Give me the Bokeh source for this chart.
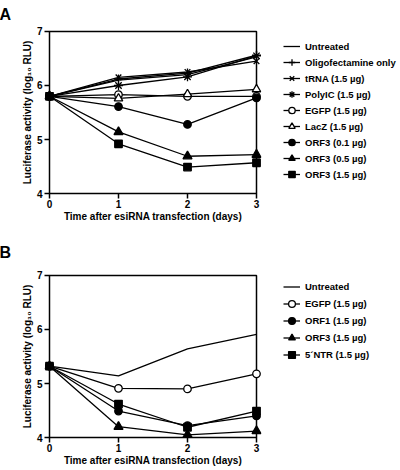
from bokeh.plotting import figure
from bokeh.layouts import column, row
from bokeh.models import Range1d, FixedTicker, Legend, LegendItem, BoxAnnotation
from bokeh.embed import file_html
from bokeh.resources import INLINE

days = [0, 1, 2, 3]
x_ticks = [0, 1, 2, 3]
y_ticks = [4, 5, 6, 7]

# Panel A values (log10 RLU)
a_untreated = [5.80, 6.10, 6.20, 6.53]
a_oligo = [5.80, 6.12, 6.23, 6.56]
a_trna = [5.80, 6.15, 6.25, 6.45]
a_polyic = [5.80, 6.00, 6.16, 6.55]
a_egfp = [5.80, 5.83, 5.80, 5.80]
a_lacz = [5.80, 5.76, 5.84, 5.93]
a_orf3_01 = [5.80, 5.61, 5.28, 5.77]
a_orf3_05 = [5.80, 5.14, 4.69, 4.72]
a_orf3_15 = [5.80, 4.92, 4.49, 4.57]

# Panel B values (log10 RLU)
b_untreated = [5.32, 5.14, 5.64, 5.91]
b_egfp = [5.32, 4.91, 4.90, 5.18]
b_orf1 = [5.32, 4.49, 4.22, 4.40]
b_orf3 = [5.32, 4.20, 4.05, 4.12]
b_5ntr = [5.32, 4.62, 4.19, 4.49]

FONT = "Liberation Sans"
PADX = 5 / 69.0
PADY = 5 / 54.2

series_a = [
    ("Untreated", a_untreated, None, None, 0),
    ("Oligofectamine only", a_oligo, "cross", "black", 9),
    ("tRNA (1.5 µg)", a_trna, "x", "black", 8),
    ("PolyIC (1.5 µg)", a_polyic, "asterisk", "black", 9),
    ("EGFP (1.5 µg)", a_egfp, "circle", "white", 7.5),
    ("LacZ (1.5 µg)", a_lacz, "triangle", "white", 8.5),
    ("ORF3 (0.1 µg)", a_orf3_01, "circle", "black", 7.5),
    ("ORF3 (0.5 µg)", a_orf3_05, "triangle", "black", 9),
    ("ORF3 (1.5 µg)", a_orf3_15, "square", "black", 7.5),
]

series_b = [
    ("Untreated", b_untreated, None, None, 0),
    ("EGFP (1.5 µg)", b_egfp, "circle", "white", 7.5),
    ("ORF1 (1.5 µg)", b_orf1, "circle", "black", 7.5),
    ("ORF3 (1.5 µg)", b_orf3, "triangle", "black", 9),
    ("5´NTR (1.5 µg)", b_5ntr, "square", "black", 7.5),
]


def draw_series(p, series):
    out = []
    for name, vals, marker, fill, size in series:
        rs = [p.line(days, vals, line_color="black", line_width=1.3)]
        if marker:
            rs.append(p.scatter(days, vals, marker=marker, size=size,
                                fill_color=fill, line_color="black", line_width=1.3))
        out.append((name, rs))
    return out


def make_panel(series, height, top, bottom, legend_loc, row_h, letter, letter_standoff):
    p = figure(width=265, height=height, title=letter,
               x_range=Range1d(x_ticks[0] - PADX, x_ticks[-1] + PADX),
               y_range=Range1d(y_ticks[0] - PADY, y_ticks[-1] + PADY),
               output_backend="svg", toolbar_location=None,
               min_border_left=44, min_border_right=4,
               min_border_top=top, min_border_bottom=bottom)
    p.grid.visible = False
    p.outline_line_color = None

    p.title.text_font = FONT
    p.title.text_font_style = "bold"
    p.title.text_font_size = "16px"
    p.title.text_color = "black"
    p.title.align = "left"
    p.title.offset = -45
    p.title.standoff = letter_standoff

    # plot box (axis lines at 0..3 and 4..7)
    p.add_layout(BoxAnnotation(left=x_ticks[0], right=x_ticks[-1],
                               bottom=y_ticks[0], top=y_ticks[-1],
                               fill_alpha=0, line_color="black", line_alpha=1.0,
                               line_width=1.5, level="underlay"))

    xa = p.xaxis[0]
    ya = p.yaxis[0]
    xa.ticker = FixedTicker(ticks=x_ticks)
    ya.ticker = FixedTicker(ticks=y_ticks)
    for ax in (xa, ya):
        ax.axis_line_color = None
        ax.major_tick_line_width = 1.5
        ax.major_tick_line_color = "black"
        ax.minor_tick_line_color = None
        ax.major_tick_in = 5
        ax.major_tick_out = 0
        ax.major_label_text_font = FONT
        ax.major_label_text_font_style = "bold"
        ax.major_label_text_font_size = "10px"
        ax.major_label_text_color = "black"
        ax.axis_label_text_font = FONT
        ax.axis_label_text_font_style = "bold"
        ax.axis_label_text_font_size = "10px"
        ax.axis_label_text_color = "black"
    xa.major_label_standoff = 1
    ya.major_label_standoff = 2
    xa.axis_label = "Time after esiRNA transfection (days)"
    ya.axis_label = "Luciferase activity (log₁₀ RLU)"
    xa.axis_label_standoff = 0
    ya.axis_label_standoff = 1

    draw_series(p, series)

    # legend panel: its own figure (frame is aligned with the plot's frame)
    lg = figure(width=135, height=height, x_range=Range1d(100, 101), y_range=Range1d(100, 101),
                x_axis_type=None, y_axis_type=None, output_backend="svg",
                toolbar_location=None, min_border=0)
    lg.grid.visible = False
    lg.outline_line_color = None
    items = [LegendItem(label=name, renderers=rs) for name, rs in draw_series(lg, series)]
    legend = Legend(items=items, location=legend_loc, padding=0, margin=0,
                    spacing=0, label_height=row_h, glyph_height=row_h,
                    glyph_width=17, label_standoff=5,
                    border_line_color=None, background_fill_alpha=0,
                    label_text_font=FONT, label_text_font_style="bold",
                    label_text_font_size="9.5px", label_text_color="black")
    lg.add_layout(legend, "center")
    return row(p, lg, spacing=0)


rowA = make_panel(series_a, 232, 25, 34, (18, 16), 16, "A", 7)
rowB = make_panel(series_b, 238, 38, 28, (18, 79), 17, "B", 19)

layout = column(rowA, rowB, spacing=0)

open("out.html", "w").write(file_html(layout, INLINE))
